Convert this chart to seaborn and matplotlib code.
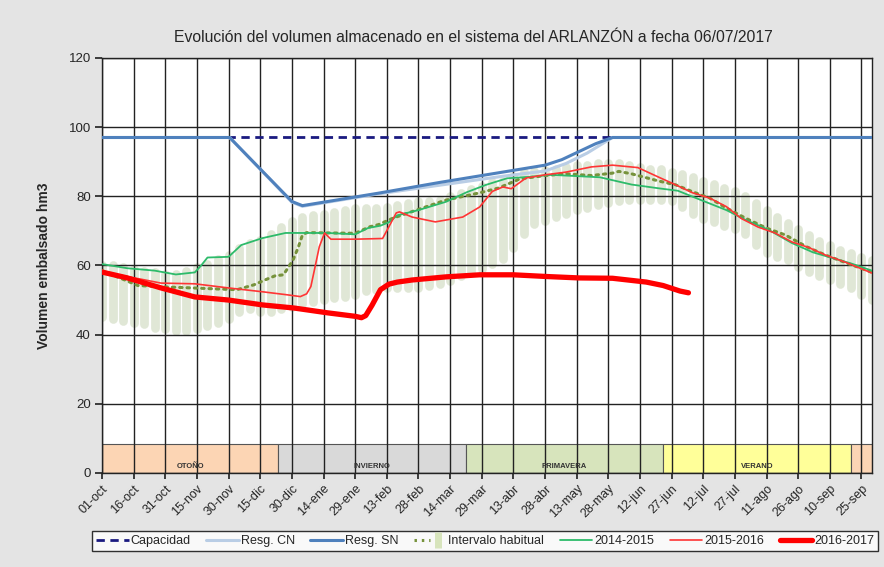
import numpy as np
import pandas as pd
import matplotlib
matplotlib.use("Agg")
import matplotlib.pyplot as plt
import seaborn as sns
from matplotlib.lines import Line2D
from matplotlib.patches import Rectangle
from matplotlib.legend_handler import HandlerTuple

# ---- data (day of hydrological year, 0 = 01-oct) ----
tick_labels = ["01-oct", "16-oct", "31-oct", "15-nov", "30-nov", "15-dic", "30-dic",
               "14-ene", "29-ene", "13-feb", "28-feb", "14-mar", "29-mar", "13-abr",
               "28-abr", "13-may", "28-may", "12-jun", "27-jun", "12-jul", "27-jul",
               "11-ago", "26-ago", "10-sep", "25-sep"]

season_names = ["OTOÑO", "INVIERNO", "PRIMAVERA", "VERANO", ""]
season_start = [0, 83.5, 172.5, 266, 355]
season_end = [83.5, 172.5, 266, 355, 365]
season_colors = ["#fcd5b4", "#d9d9d9", "#d7e4bc", "#ffff99", "#fcd5b4"]

capacidad = 97

sn_days = [0, 60.5, 90, 95, 131, 160, 190, 210, 218, 226, 234, 242, 365]
sn_vals = [97, 97, 78.5, 77.3, 80.9, 84.0, 87.0, 89.0, 90.6, 92.9, 95.2, 97, 97]

cn_days = [0, 60.5, 90, 95, 131, 160, 190, 210, 220, 230, 242, 365]
cn_vals = [97, 97, 78.3, 77.1, 80.7, 83.2, 85.8, 87.3, 89.5, 92.5, 97, 97]

# intervalo habitual, one bar every 5 days
bar_hi = [60, 60, 59.5, 59, 58.5, 58, 57.5, 57.5, 58.5, 59.5,
          60.5, 62, 63, 65, 66.5, 67.5, 69, 71, 73, 74,
          74.5, 75, 75.5, 76, 76.5, 76.5, 76.5, 77, 77.5, 78,
          78.5, 78.5, 79, 80, 81, 82, 83, 84, 84.5, 86,
          87, 87.2, 87.5, 88, 88.5, 89, 89, 89.5, 89.5, 89.5,
          89, 88.5, 88, 88, 87, 86.5, 85.5, 84.3, 83.5, 82.5,
          81.5, 80, 78, 76, 74, 72.2, 70.5, 68.8, 67, 65.8,
          64.5, 63.5, 62.5, 61.5]
bar_lo = [45, 44.5, 44, 43.5, 43, 42, 41.5, 41, 41, 41.5,
          42.5, 43.5, 44.5, 46.5, 47.5, 46.5, 46.5, 47.5, 48, 49,
          49.5, 50, 50.5, 51, 51.5, 52.5, 53, 53.5, 53.5, 53.5,
          53.5, 54, 54.5, 55.5, 57, 58, 59, 60.5, 62, 65,
          69, 72, 73, 74, 75, 76, 76.5, 77.5, 78, 78.5,
          79, 79, 79, 79, 78.5, 77, 75, 73.5, 72.5, 71.5,
          70.5, 69, 66, 63.5, 62.5, 61.5, 59.5, 58, 57, 55.8,
          54.5, 53.5, 51.5, 50]

mean_days = [0, 10, 17, 30, 43, 55, 64, 72, 78, 82, 86, 90.5, 93, 95, 97, 120, 127,
             131, 138, 149, 163, 179, 188, 198, 210, 220, 232, 242, 245, 251, 264,
             272, 280, 288, 296, 305, 315, 324, 334, 343, 353, 362, 365]
mean_vals = [58.5, 56.0, 54.2, 53.8, 53.5, 53.2, 53.0, 54.4, 56.0, 57.0, 57.3, 61.5, 65.2,
             68.8, 69.5, 69.3, 71.2, 71.8, 73.7, 76.0, 78.9, 81.0, 82.4, 85.0, 86.0,
             86.5, 86.0, 86.7, 87.2, 86.5, 84.4, 83.3, 81.3, 79.5, 76.6, 73.7, 70.8,
             68.8, 65.4, 63.0, 60.7, 58.7, 58.0]

d1415 = [0, 12, 25, 35, 44, 47, 50, 60, 66, 76, 87, 107, 120, 126, 132, 136, 140, 150,
         163, 173, 182, 192, 202, 213, 223, 236, 251, 264, 273, 284, 296, 305, 316,
         327, 337, 346, 355, 365]
v1415 = [60.4, 59.2, 58.5, 57.4, 58.0, 60.0, 62.3, 62.5, 65.9, 67.9, 69.4, 69.4, 69.0,
         70.8, 71.5, 72.5, 74.5, 76.0, 78.4, 81.2, 83.3, 85.2, 85.6, 86.2, 85.9, 85.5,
         83.4, 82.3, 81.6, 78.9, 76.0, 73.2, 70.3, 66.5, 63.8, 62.2, 60.6, 58.5]

d1516 = [0, 12, 28, 44, 60, 76, 88, 94, 97, 99, 101, 103, 105.5, 108.5, 120, 133, 136,
         139.5, 141, 147, 158, 171, 179, 185, 190, 194, 201, 210, 220, 232, 242, 254,
         264, 272, 280, 288, 296, 303, 311, 319, 327, 335, 343, 353, 365]
v1516 = [58.2, 56.8, 54.9, 54.7, 53.5, 52.4, 51.5, 51.0, 51.8, 53.9, 59.6, 65.4, 69.4,
         67.6, 67.6, 67.8, 71.2, 75.2, 75.5, 74.0, 72.6, 74.0, 76.9, 81.4, 82.7, 82.2,
         85.3, 86.2, 87.0, 88.5, 89.0, 88.3, 85.5, 83.3, 81.0, 79.5, 77.0, 73.6, 71.1,
         69.4, 66.8, 65.2, 63.0, 60.8, 57.8]

d1617 = [0, 12, 28, 44, 60, 76, 91, 107, 120, 123, 125, 128, 132, 136, 140, 147, 163,
         179, 195, 211, 226, 242, 258, 266, 274, 278]
v1617 = [58.1, 56.4, 53.5, 50.9, 50.0, 48.6, 47.7, 46.3, 45.3, 44.9, 45.5, 48.5, 53.0,
         54.6, 55.2, 55.8, 56.7, 57.3, 57.3, 56.8, 56.4, 56.3, 55.2, 54.2, 52.6, 52.1]

# ---- plot ----
sns.set_theme(style="white")
plt.rcParams["font.family"] = ["Liberation Sans", "DejaVu Sans"]

fig = plt.figure(figsize=(8.84, 5.67), dpi=100, facecolor="#e4e4e4")
ax = fig.add_axes([0.1154, 0.1658, 0.871, 0.732])
ax.set_facecolor("white")

for name, s, e, c in zip(season_names, season_start, season_end, season_colors):
    ax.add_patch(Rectangle((s, 0), e - s, 8.5, facecolor=c, edgecolor="#555555",
                           lw=0.8, zorder=1))
    if name:
        ax.text((s + e) / 2, 2.0, name, ha="center", va="center", fontsize=5.5,
                fontweight="bold", color="#333333", zorder=3)

bar_days = np.arange(0, 366, 5)
ax.vlines(bar_days, bar_lo, bar_hi, colors="#e0e7d6", linewidths=6.3,
          capstyle="round", zorder=1)

sns.lineplot(x=[0, 365], y=[capacidad, capacidad], ax=ax, color="#1a1a80",
             linewidth=2, linestyle=(0, (3, 2)), zorder=3)
sns.lineplot(x=cn_days, y=cn_vals, ax=ax, color="#b9cde5", linewidth=2.2, zorder=4)
sns.lineplot(x=sn_days, y=sn_vals, ax=ax, color="#4f81bd", linewidth=2.2, zorder=5)
sns.lineplot(x=mean_days, y=mean_vals, ax=ax, color="#77933c", linewidth=2.2,
             linestyle=(0, (0.8, 1.6)), dash_capstyle="round", zorder=6)
sns.lineplot(x=d1415, y=v1415, ax=ax, color="#2dbb6a", linewidth=1.3, zorder=7)
sns.lineplot(x=d1516, y=v1516, ax=ax, color="#ff3535", linewidth=1.2, zorder=8)
sns.lineplot(x=d1617, y=v1617, ax=ax, color="#ff0000", linewidth=3.8, zorder=9)

ax.set_xlim(0, 365)
ax.set_ylim(0, 120)
ax.set_xticks(np.arange(0, 361, 15))
ax.set_xticklabels(tick_labels, rotation=45, ha="right", rotation_mode="anchor",
                   fontsize=9)
ax.set_yticks(np.arange(0, 121, 20))
ax.tick_params(axis="y", labelsize=9.5, length=5, direction="out", left=True, pad=3)
ax.tick_params(axis="x", length=4, direction="out", bottom=True, pad=3)
ax.grid(True, color="#222222", linewidth=1.0)
ax.set_axisbelow("line")
for sp in ax.spines.values():
    sp.set_color("#222222")
    sp.set_linewidth(1.0)

ax.set_xlabel("")
ax.set_ylabel("Volumen embalsado hm3", fontsize=10, fontweight="bold", labelpad=13)
fig.text(0.535, 0.933, "Evolución del volumen almacenado en el sistema del ARLANZÓN a fecha 06/07/2017",
         ha="center", va="center", fontsize=11.3)

handles = [
    Line2D([], [], color="#1a1a80", lw=2, ls=(0, (3, 2))),
    Line2D([], [], color="#b9cde5", lw=2.2),
    Line2D([], [], color="#4f81bd", lw=2.2),
    (Line2D([], [], color="#77933c", lw=2.2, ls=(0, (0.8, 1.6))),
     Line2D([], [], color="#d7e4bc", marker="|", ms=12, mew=5, ls="none")),
    Line2D([], [], color="#2dbb6a", lw=1.3),
    Line2D([], [], color="#ff3535", lw=1.2),
    Line2D([], [], color="#ff0000", lw=3.8),
]
labels = ["Capacidad", "Resg. CN", "Resg. SN", "Intervalo habitual",
          "2014-2015", "2015-2016", "2016-2017"]
leg = fig.legend(handles, labels, loc="center", ncol=7,
                 bbox_to_anchor=(485 / 884, 1 - 541 / 567),
                 fontsize=9, frameon=True, fancybox=False,
                 edgecolor="black", handlelength=2.6, handletextpad=0.15,
                 columnspacing=1.25, borderpad=0.35, borderaxespad=0,
                 handler_map={tuple: HandlerTuple(ndivide=None, pad=0)})
leg.get_frame().set_linewidth(1.0)

fig.savefig("out.png", dpi=100, facecolor=fig.get_facecolor())
